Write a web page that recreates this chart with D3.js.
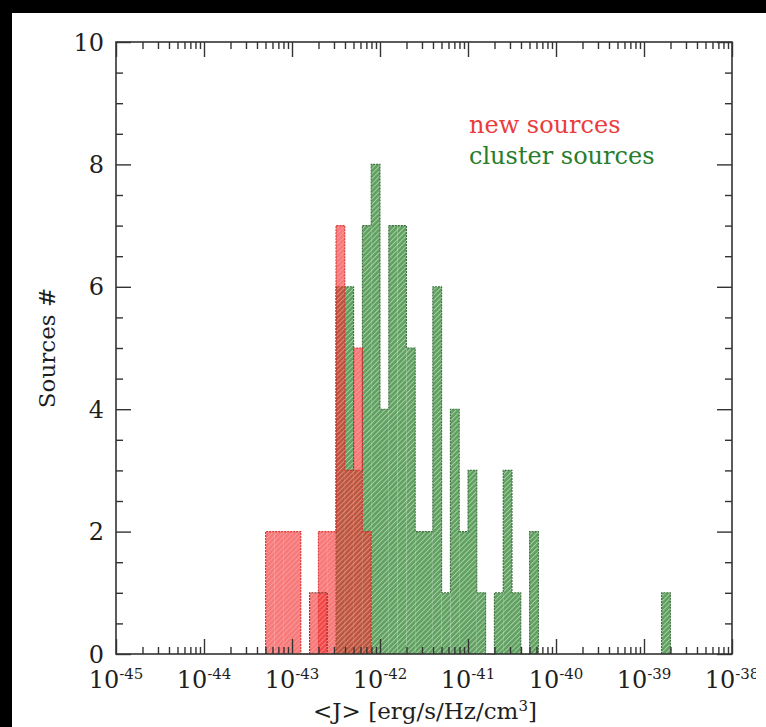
<!DOCTYPE html>
<html><head><meta charset="utf-8">
<script src="https://cdn.jsdelivr.net/npm/d3@7"></script>
<style>html,body{margin:0;padding:0;background:#000;overflow:hidden;} svg{display:block;}</style>
</head><body>
<script>
// ---- data (log10 of <J>, bin left edges and counts) ----
const xTickExponents = [-45, -44, -43, -42, -41, -40, -39, -38];
const yTickValues = [0, 2, 4, 6, 8, 10];
const binWidthDex = 0.1;

const greenBinLo = [-42.5, -42.4, -42.3, -42.2, -42.1, -42.0, -41.9, -41.8, -41.7, -41.6, -41.5,
                    -41.4, -41.3, -41.2, -41.1, -41.0, -40.9, -40.8, -40.7, -40.6, -40.5, -40.4, -40.3, -38.8];
const greenCounts = [6, 6, 3, 7, 8, 4, 7, 7, 5, 2, 2,
                     6, 1, 4, 2, 3, 1, 0, 1, 3, 1, 0, 2, 1];

const redBinLo = [-43.3, -43.2, -43.1, -43.0, -42.9, -42.8, -42.7, -42.6, -42.5, -42.4, -42.3, -42.2];
const redCounts = [2, 2, 2, 2, 0, 0, 2, 2, 7, 3, 5, 2];

// small overlapping red group (separate bins)
const redExtraBinLo = [-42.8, -42.7];
const redExtraCounts = [1, 1];

const legendLabels = ["new sources", "cluster sources"];

// ---- layout ----
const W = 766, H = 727;
const svg = d3.select("body").append("svg").attr("width", W).attr("height", H);
svg.append("rect").attr("width", W).attr("height", H).attr("fill", "#000");
svg.append("rect").attr("x", 12).attr("y", 13).attr("width", W - 12).attr("height", H - 13).attr("fill", "#fff");

const x = d3.scaleLog().domain([1e-45, 1e-38]).range([116, 732]);
const y = d3.scaleLinear().domain([0, 10]).range([654, 42]);
const X = e => x(Math.pow(10, e));

const defs = svg.append("defs");
defs.append("clipPath").attr("id", "labelClip").append("rect")
  .attr("x", 0).attr("y", 0).attr("width", 756).attr("height", H);
function hatch(id, base, line) {
  const p = defs.append("pattern").attr("id", id).attr("patternUnits", "userSpaceOnUse")
    .attr("width", 3.6).attr("height", 3.6).attr("patternTransform", "rotate(45)");
  p.append("rect").attr("width", 3.6).attr("height", 3.6).attr("fill", base);
  p.append("line").attr("x1", 0.5).attr("y1", 0).attr("x2", 0.5).attr("y2", 3.6)
    .attr("stroke", line).attr("stroke-width", 0.9);
}
hatch("hG", "rgb(98,160,98)", "rgb(170,212,170)");
hatch("hR", "rgba(242,40,40,0.62)", "rgba(255,235,235,0.28)");

function bins(lo, counts) {
  return lo.map((l, i) => ({ lo: l, hi: +(l + binWidthDex).toFixed(3), c: counts[i] }));
}
function outline(bs) {
  let d = "", prevHi = null;
  bs.forEach(b => {
    if (prevHi === null || Math.abs(b.lo - prevHi) > 1e-6) {
      if (prevHi !== null) d += `L${X(prevHi)},${y(0)}`;
      d += `M${X(b.lo)},${y(0)}`;
    }
    d += `L${X(b.lo)},${y(b.c)}L${X(b.hi)},${y(b.c)}`;
    prevHi = b.hi;
  });
  d += `L${X(prevHi)},${y(0)}`;
  return d;
}
function drawSeries(bs, fill, stroke) {
  const g = svg.append("g");
  g.selectAll("rect").data(bs.filter(b => b.c > 0)).join("rect")
    .attr("x", b => X(b.lo)).attr("width", b => X(b.hi) - X(b.lo))
    .attr("y", b => y(b.c)).attr("height", b => y(0) - y(b.c))
    .attr("fill", fill);
  g.append("path").attr("d", outline(bs)).attr("fill", "none")
    .attr("stroke", stroke).attr("stroke-width", 1.1).attr("stroke-dasharray", "2,1");
}

drawSeries(bins(greenBinLo, greenCounts), "url(#hG)", "#3b6f3b");
drawSeries(bins(redBinLo, redCounts), "url(#hR)", "rgba(215,35,35,0.9)");
drawSeries(bins(redExtraBinLo, redExtraCounts), "url(#hR)", "rgba(120,40,30,0.9)");

// ---- axes frame and ticks ----
const axisColor = "#333";
svg.append("rect").attr("x", 116).attr("y", 42).attr("width", 616).attr("height", 612)
  .attr("fill", "none").attr("stroke", axisColor).attr("stroke-width", 1.6);

const majors = xTickExponents.map(e => Math.pow(10, e));
const minors = [];
xTickExponents.slice(0, -1).forEach(e => { for (let m = 2; m <= 9; m++) minors.push(m * Math.pow(10, e)); });

function styleAxis(g) {
  g.select(".domain").remove();
  g.selectAll("line").attr("stroke", axisColor).attr("stroke-width", 1.4);
  g.selectAll("text").remove();
}
svg.append("g").attr("transform", "translate(0,654)").call(d3.axisBottom(x).tickValues(majors).tickSize(-15).tickFormat("")).call(styleAxis);
svg.append("g").attr("transform", "translate(0,654)").call(d3.axisBottom(x).tickValues(minors).tickSize(-7).tickFormat("")).call(styleAxis);
svg.append("g").attr("transform", "translate(0,42)").call(d3.axisTop(x).tickValues(majors).tickSize(-15).tickFormat("")).call(styleAxis);
svg.append("g").attr("transform", "translate(0,42)").call(d3.axisTop(x).tickValues(minors).tickSize(-7).tickFormat("")).call(styleAxis);

const yMinor = d3.range(0, 10.01, 0.5).filter(v => !yTickValues.includes(v));
svg.append("g").attr("transform", "translate(116,0)").call(d3.axisLeft(y).tickValues(yTickValues).tickSize(-15).tickFormat("")).call(styleAxis);
svg.append("g").attr("transform", "translate(116,0)").call(d3.axisLeft(y).tickValues(yMinor).tickSize(-7).tickFormat("")).call(styleAxis);
svg.append("g").attr("transform", "translate(732,0)").call(d3.axisRight(y).tickValues(yTickValues).tickSize(-15).tickFormat("")).call(styleAxis);
svg.append("g").attr("transform", "translate(732,0)").call(d3.axisRight(y).tickValues(yMinor).tickSize(-7).tickFormat("")).call(styleAxis);

// ---- labels ----
const font = "'DejaVu Serif', serif";
const textColor = "#1e1e1e";
svg.append("g").selectAll("text").data(yTickValues).join("text")
  .attr("x", 104).attr("y", d => y(d)).attr("dy", "0.36em").attr("text-anchor", "end")
  .attr("font-family", font).attr("font-size", 24).attr("fill", textColor).text(d => d);

const xl = svg.append("g").attr("clip-path", "url(#labelClip)").selectAll("text").data(xTickExponents).join("text")
  .attr("x", d => X(d)).attr("y", 688).attr("text-anchor", "middle")
  .attr("font-family", font).attr("fill", textColor);
xl.append("tspan").attr("font-size", 24).text("10");
xl.append("tspan").attr("font-size", 15).attr("dy", -9).text(d => "-" + Math.abs(d));

const xt = svg.append("text").attr("x", 425).attr("y", 719).attr("text-anchor", "middle")
  .attr("font-family", font).attr("font-size", 23).attr("fill", textColor);
xt.append("tspan").text("<J> [erg/s/Hz/cm");
xt.append("tspan").attr("font-size", 15).attr("dy", -8).text("3");
xt.append("tspan").attr("dy", 8).text("]");

svg.append("text").attr("transform", "translate(55,348) rotate(-90)").attr("text-anchor", "middle")
  .attr("font-family", font).attr("font-size", 23).attr("fill", textColor).text("Sources #");

svg.append("text").attr("x", 469).attr("y", 133).attr("font-family", font).attr("font-size", 24)
  .attr("fill", "rgb(235,60,60)").text(legendLabels[0]);
svg.append("text").attr("x", 469).attr("y", 164).attr("font-family", font).attr("font-size", 24)
  .attr("fill", "rgb(40,125,45)").text(legendLabels[1]);
</script>
</body></html>
